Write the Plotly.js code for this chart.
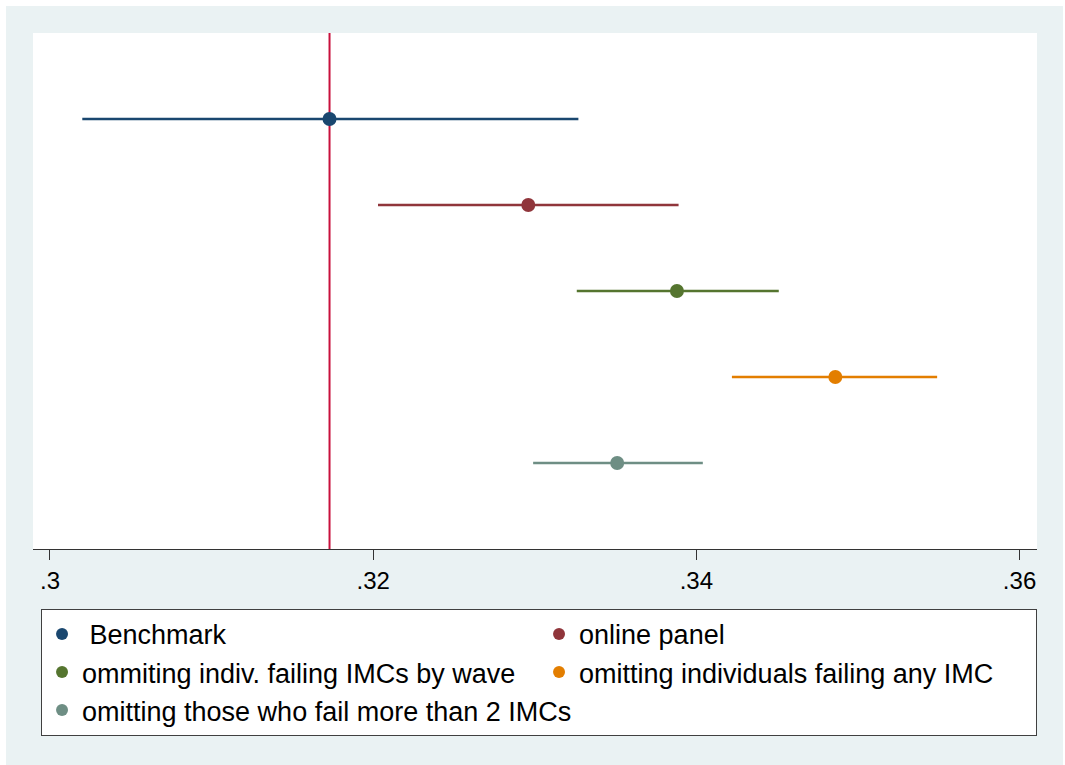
<!DOCTYPE html>
<html>
<head>
<meta charset="utf-8">
<script src="https://cdn.plot.ly/plotly-3.0.1.min.js"></script>
<style>html,body{margin:0;padding:0;background:#fff;}#chart{width:1065px;height:765px;}</style>
</head>
<body>
<div id="chart"></div>
<script>
// ---- data ----
const seriesNames = ['\u00a0Benchmark', 'online panel', 'ommiting indiv. failing IMCs by wave', 'omitting individuals failing any IMC', 'omitting those who fail more than 2 IMCs'];
const rows = [1, 2, 3, 4, 5];
const estimates = [0.3173, 0.3296, 0.3388, 0.3486, 0.3351];
const lowerCI = [0.3020, 0.3203, 0.3326, 0.3422, 0.3299];
const upperCI = [0.3327, 0.3389, 0.3451, 0.3549, 0.3404];
const tickValues = [0.30, 0.32, 0.34, 0.36];
const tickLabels = ['.3', '.32', '.34', '.36'];
const colors = ['#1a476f', '#90353b', '#55752f', '#e37e00', '#6e8e84'];

const FONT = 'Arial, "Liberation Sans", Helvetica, sans-serif';

const traces = seriesNames.map((name, i) => ({
  type: 'scatter',
  mode: 'markers',
  name: name,
  x: [estimates[i]],
  y: [rows[i]],
  marker: {color: colors[i], size: 14},
  error_x: {
    type: 'data', symmetric: false,
    array: [upperCI[i] - estimates[i]],
    arrayminus: [estimates[i] - lowerCI[i]],
    color: colors[i], thickness: 2.6, width: 0
  },
  hoverinfo: 'x+name'
}));

const layout = {
  width: 1065, height: 765,
  margin: {l: 33, r: 28, t: 33, b: 216},
  paper_bgcolor: '#ffffff',
  plot_bgcolor: 'rgba(0,0,0,0)',
  font: {family: FONT, color: '#000', size: 24},
  showlegend: true,
  xaxis: {
    range: [0.29895, 0.36108],
    tickvals: tickValues, ticktext: tickLabels,
    ticks: 'outside', ticklen: 10, tickwidth: 1, tickcolor: '#333',
    ticklabelstandoff: 0,
    showline: true, linecolor: '#333', linewidth: 1,
    showgrid: false, zeroline: false,
    tickfont: {family: FONT, size: 24, color: '#000'}
  },
  yaxis: {
    range: [6, 0], visible: false, showgrid: false, zeroline: false, fixedrange: true
  },
  legend: {
    orientation: 'h',
    x: 0.008, xanchor: 'left',
    y: -0.116, yanchor: 'top',
    bgcolor: '#ffffff', bordercolor: '#404040', borderwidth: 1,
    font: {family: FONT, size: 27, color: '#000'},
    entrywidth: 452, entrywidthmode: 'pixels',
    itemsizing: 'constant'
  },
  shapes: [
    {type: 'rect', xref: 'paper', yref: 'paper', x0: -0.0269, x1: 1.0259, y0: -0.45, y1: 1.0523,
     fillcolor: '#eaf2f3', line: {width: 0}, layer: 'below'},
    {type: 'rect', xref: 'paper', yref: 'paper', x0: 0, x1: 1, y0: 0, y1: 1,
     fillcolor: '#ffffff', line: {width: 0}, layer: 'below'},
    {type: 'line', xref: 'x', yref: 'paper', x0: estimates[0], x1: estimates[0], y0: 0, y1: 1,
     line: {color: '#c8103c', width: 2}, layer: 'below'}
  ]
};

Plotly.newPlot('chart', traces, layout, {displayModeBar: false});
</script>
</body>
</html>
